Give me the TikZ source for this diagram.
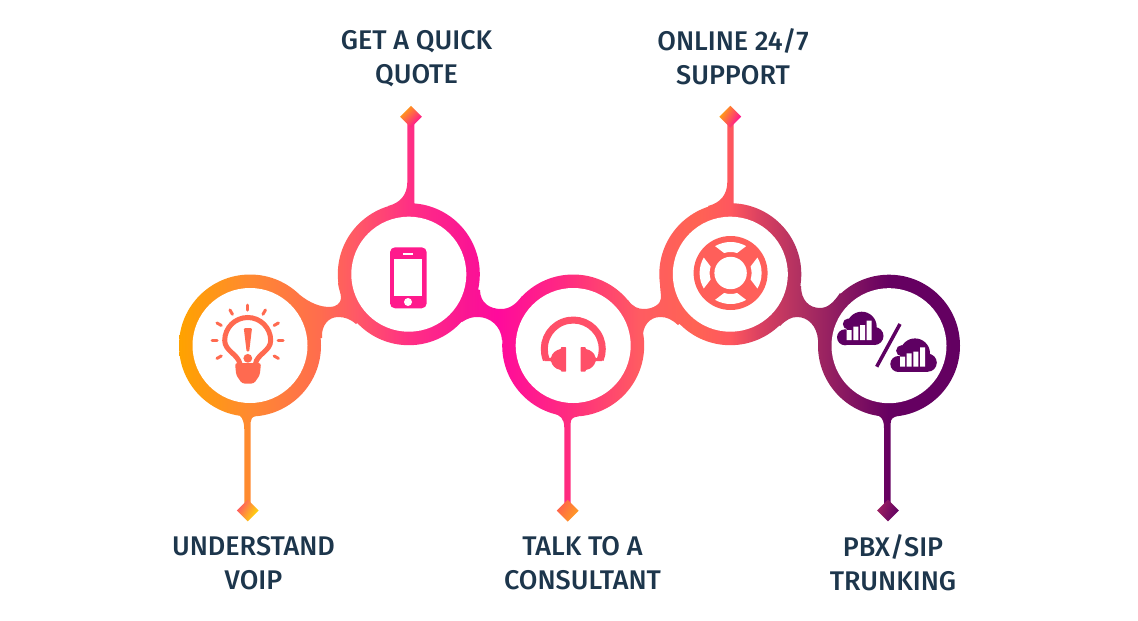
\documentclass[tikz,border=0pt]{standalone}
\usepackage{fontspec}
\newfontfamily\labfont{Fira Sans Medium}
\usetikzlibrary{shapes.geometric}
\definecolor{ink}{HTML}{1D364C}
\definecolor{bulbc}{HTML}{FF6A50}
\definecolor{phonec}{HTML}{FF1A8C}
\definecolor{headc}{HTML}{FF4F68}
\definecolor{ringc}{HTML}{FF5F5A}
\definecolor{plum}{HTML}{5E0062}
\definecolor{ga}{HTML}{FFA800}
\definecolor{gb}{HTML}{FFA200}
\definecolor{gc}{HTML}{FF8A30}
\definecolor{gd}{HTML}{FF6C4E}
\definecolor{ge}{HTML}{FF5966}
\definecolor{gf}{HTML}{FF2E85}
\definecolor{gg}{HTML}{FA1494}
\definecolor{gh}{HTML}{FF0A9C}
\definecolor{gi}{HTML}{FF2B80}
\definecolor{gj}{HTML}{FF5C61}
\definecolor{gk}{HTML}{FF6354}
\definecolor{gl}{HTML}{FF575E}
\definecolor{gm}{HTML}{D94061}
\definecolor{gn}{HTML}{B03061}
\definecolor{go}{HTML}{8C1A61}
\definecolor{gp}{HTML}{660061}
\definecolor{gq}{HTML}{5C0061}
\definecolor{dpink}{HTML}{FF5566}
\definecolor{dorange}{HTML}{FFA600}
\definecolor{dyellow}{HTML}{FFE000}
\definecolor{dtang}{HTML}{FFA60D}
\definecolor{dmag}{HTML}{FF089E}
\definecolor{dred}{HTML}{FF614D}
\definecolor{dmid}{HTML}{FF1294}
\definecolor{damber}{HTML}{FF9E21}
\definecolor{dwine}{HTML}{9E2161}
\pgfdeclarehorizontalshading{band}{560pt}{
 color(0pt)=(ga);
 color(180pt)=(gb);
 color(248pt)=(gc);
 color(320pt)=(gd);
 color(355pt)=(ge);
 color(411pt)=(gf);
 color(470pt)=(gg);
 color(497pt)=(gh);
 color(567pt)=(gi);
 color(640pt)=(gj);
 color(695pt)=(gk);
 color(730pt)=(gl);
 color(760pt)=(gm);
 color(800pt)=(gn);
 color(840pt)=(go);
 color(888pt)=(gp);
 color(1138pt)=(gq)}
\tikzset{
 hole/.style={circle,fill=white,inner sep=0pt,minimum size=115pt},
 dia/.style={diamond,inner sep=0pt,minimum size=22pt,aspect=1},
 lab/.style={text=ink,align=center,inner sep=0pt,font=\labfont\fontsize{27}{34}\selectfont},
 ray/.style={draw=bulbc,line width=3pt,line cap=round}
}
\newcommand{\lstrut}{\rule[-6pt]{0pt}{24pt}}
\newcommand{\cloudshape}[2]{%
 \begin{scope}[shift={(#1,#2)}]
 \fill[plum] (845,337.3) circle[radius=8pt] (848.3,324) circle[radius=5.5pt]
  (861.7,326.7) circle[radius=15pt] (874.5,336) circle[radius=9pt];
 \fill[plum] (845,330) rectangle (875,345.2);
 \fill[white] (846.7,330) rectangle (851.7,340) (853.3,326.7) rectangle (858.3,340)
  (860,325) rectangle (865,340) (866.7,320.7) rectangle (871.7,340);
 \end{scope}}
\begin{document}
\begin{tikzpicture}[x=1pt,y=-1pt]
\fill[white] (0,0) rectangle (1138,621);
\useasboundingbox (0,0) rectangle (1138,621);
\coordinate (c1) at (250,345.5);
\coordinate (c2) at (408.8,274.2);
\coordinate (c3) at (573.2,345.5);
\coordinate (c4) at (730.3,274.2);
\coordinate (c5) at (889,345.7);
\begin{scope}
\clip (c1) circle[radius=71pt] (c2) circle[radius=71pt] (c3) circle[radius=71pt]
 (c4) circle[radius=71pt] (c5) circle[radius=71pt]
 (c1) -- (322,338) .. controls (321,325) and (329,317) .. (338,317)
  .. controls (345,317) and (350,319) .. (356,324) -- (c2)
  -- (338,283) .. controls (338.5,289) and (341,293) .. (341,298)
  .. controls (341,303) and (336,307) .. (330,307)
  .. controls (320,307) and (310,303) .. (300,295) -- cycle
 (c2) -- (462,322) .. controls (468,318) and (472,317) .. (478,317)
  .. controls (490,317) and (501,326) .. (502,340) -- (c3)
  -- (522,296) .. controls (516,304) and (510,309) .. (501,309)
  .. controls (490,309) and (480,303) .. (480,290) -- cycle
 (c3) -- (643,338) .. controls (642,326) and (650,317) .. (660,317)
  .. controls (667,317) and (671,319) .. (678,325) -- (c4)
  -- (660,283) .. controls (660,289) and (661,293) .. (661,298)
  .. controls (661,304) and (653,309) .. (644,309)
  .. controls (638,309) and (633,307) .. (628,300) -- cycle
 (c4) -- (780,326) .. controls (786,320) and (791,317) .. (797,317)
  .. controls (808,317) and (817,326) .. (818,340) -- (c5)
  -- (840,293) .. controls (834,302) and (828,308) .. (820,308)
  .. controls (809,308) and (801,300) .. (801,286) -- cycle
 (407.3,116) -- (407.3,182) .. controls (407.3,195) and (400,203) .. (388,206) -- (414.3,230) -- (414.3,116) -- cycle
 (727.3,116) -- (727.3,182) .. controls (727.3,195) and (720,203) .. (708,206) -- (733.7,230) -- (733.7,116) -- cycle
 (234,412) .. controls (241,414) and (244.3,420) .. (244.3,430) -- (244.3,510) -- (250.7,510) -- (250.7,422) .. controls (250.7,419) and (252,417) .. (256,416) -- (250,390) -- cycle
 (553,413.5) .. controls (560,415) and (564.3,418) .. (564.3,428) -- (564.3,510) -- (570.7,510) -- (570.7,423) .. controls (570.7,419) and (573,417) .. (578,416.5) -- (573,390) -- cycle
 (873,414) .. controls (880,415) and (884,418) .. (884,428) -- (884,510) -- (890.7,510) -- (890.7,423) .. controls (890.7,419) and (893,417) .. (898,416) -- (889,390) -- cycle;
\node[inner sep=0pt,anchor=south west] at (0,560) {\pgfuseshading{band}};
\end{scope}
\node[hole] (n1) at (c1) {};
\node[hole] (n2) at (c2) {};
\node[hole] (n3) at (c3) {};
\node[hole] (n4) at (c4) {};
\node[hole] (n5) at (c5) {};
\node[dia,left color=dpink,middle color=dorange,right color=dyellow,shading angle=60] (d1) at (247.7,510.5) {};
\node[dia,left color=dtang,right color=dmag,shading angle=45] (d2) at (411,116.7) {};
\node[dia,left color=dred,middle color=dmid,right color=damber,shading angle=60] (d3) at (567.7,510.7) {};
\node[dia,left color=dtang,right color=dmag,shading angle=60] (d4) at (730.3,116.7) {};
\node[dia,left color=dwine,right color=plum,shading angle=70] (d5) at (888,510.5) {};
% labels
\node[lab] (l1) at (253.5,566) {\lstrut UNDERSTAND\\\lstrut VOIP};
\node[lab] (l2) at (416.5,60) {\lstrut GET A QUICK\\\lstrut QUOTE};
\node[lab] (l3) at (582.5,566) {\lstrut TALK TO A\\\lstrut CONSULTANT};
\node[lab] (l4) at (733,60) {\lstrut ONLINE 24/7\\\lstrut SUPPORT};
\node[lab] (l5) at (893,566) {\lstrut PBX/SIP\\\lstrut TRUNKING};
% bulb
\foreach \a in {0,30,60,90,120,150,180,210,-30}
 \draw[ray] ([shift={(\a:30.5pt)}]247.7,340.7) -- ([shift={(\a:35.5pt)}]247.7,340.7);
\draw[bulbc,line width=5pt] (240,364) .. controls (238,354) and (224.7,351) .. (224.7,340.5)
 arc[start angle=180,end angle=0,radius=23pt] .. controls (270.7,351) and (257,354) .. (255.4,364);
\fill[bulbc,rounded corners=2.5pt] (235,363) -- (261,363) -- (259.8,375) -- (254,383.5) -- (242,383.5) -- (236.2,375) -- cycle;
\fill[bulbc,rounded corners=1pt] (243.8,328.2) -- (252,328.2) -- (249.2,351.5) -- (246.6,351.5) -- cycle;
\fill[bulbc] (247.8,358.3) circle[radius=4.4pt];
% phone
\fill[phonec,rounded corners=5pt] (390,247.3) rectangle (426.7,308.3);
\fill[white] (394.3,259.3) rectangle (422,295.7);
\fill[white] (403.3,252.5) rectangle (413.3,254.5);
\fill[white] (408,302) circle[radius=4pt];
% headset
\draw[headc,line width=7pt] (546.4,359.9) arc[start angle=202,end angle=-22,radius=29pt];
\fill[headc,rounded corners=0.7pt] (566,347) -- (566,371.7) -- (561,371.7) -- (561,370) .. controls (555,369) and (552,365) .. (551,361) -- (544,361) -- (546,358) -- (551,358) .. controls (552,353) and (556,350) .. (561,349) -- (561,347) -- cycle;
\fill[headc,rounded corners=0.7pt] (580.6,347) -- (580.6,371.7) -- (585.6,371.7) -- (585.6,370) .. controls (591.6,369) and (594.6,365) .. (595.6,361) -- (602.6,361) -- (600.6,358) -- (595.6,358) .. controls (594.6,353) and (590.6,350) .. (585.6,349) -- (585.6,347) -- cycle;
% lifesaver
\coordinate (life) at (730.6,273);
\fill[ringc] (life) circle[radius=37pt];
\fill[white] (life) circle[radius=16.2pt];
\foreach \a in {0,90,180,270}
 \fill[white,shift={(life)},rotate=\a] (-30:31pt) arc[start angle=-30,end angle=30,radius=31pt] -- (18:21pt) arc[start angle=18,end angle=-18,radius=21pt] -- cycle;
% clouds
\cloudshape{0}{0}
\cloudshape{53.3}{26.7}
\draw[plum,line width=3.5pt] (900,324) -- (876.7,366.7);
\end{tikzpicture}
\end{document}
